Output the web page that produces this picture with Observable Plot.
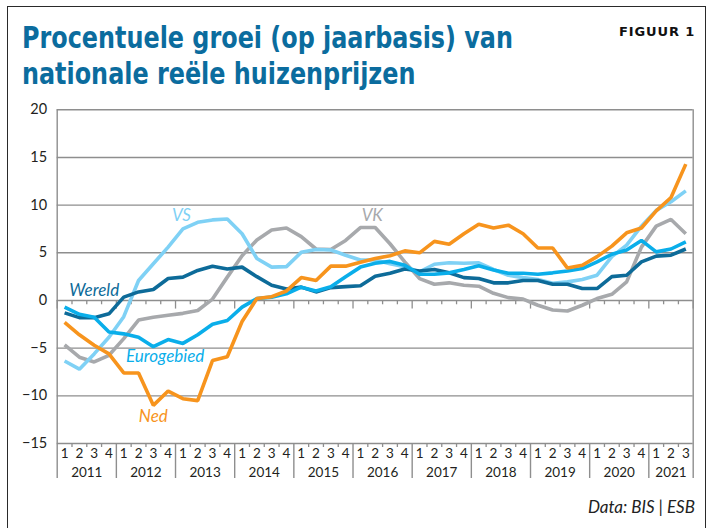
<!DOCTYPE html>
<html><head><meta charset="utf-8">
<script src="https://cdn.jsdelivr.net/npm/d3@7"></script>
<script src="https://cdn.jsdelivr.net/npm/@observablehq/plot@0.6"></script>
<style>
html,body{margin:0;padding:0;background:#fff;}
#fig{position:relative;width:711px;height:528px;overflow:hidden;background:#fff;font-family:Lato,"Open Sans",sans-serif;}
#frame{position:absolute;left:7px;top:6px;width:699px;height:560px;border:1.6px solid #2a2a2a;box-sizing:border-box;pointer-events:none;}
.tl{position:absolute;left:22px;color:#0b6c9e;font-family:"DejaVu Sans Condensed","DejaVu Sans",sans-serif;font-stretch:condensed;font-weight:bold;font-size:31px;line-height:31px;white-space:nowrap;transform-origin:0 0;}
#t1{top:22px;}
#t2{top:58px;}
#figlabel{position:absolute;left:619px;top:24px;font-family:"DejaVu Sans",sans-serif;font-weight:bold;font-size:13px;letter-spacing:0.9px;color:#111;white-space:nowrap;}
#chart{position:absolute;left:0;top:95px;}
#caption{position:absolute;right:16px;top:496px;font-family:Lato,sans-serif;font-style:italic;font-size:17px;color:#222;white-space:nowrap;}
</style>
</head><body>
<div id="fig">
  <div class="tl" id="t1">Procentuele groei (op jaarbasis) van</div>
  <div class="tl" id="t2">nationale reële huizenprijzen</div>
  <div id="figlabel">FIGUUR 1</div>
  <div id="chart"></div>
  <div id="caption">Data: BIS | ESB</div>
  <div id="frame"></div>
</div>
<script>
// ---- data ----
const years = [2011, 2012, 2013, 2014, 2015, 2016, 2017, 2018, 2019, 2020, 2021];
const quartersPerYear = [4, 4, 4, 4, 4, 4, 4, 4, 4, 4, 3];
const yTicks = [20, 15, 10, 5, 0, -5, -10, -15];

const ned = [-2.3, -3.6, -4.7, -5.6, -7.6, -7.6, -11.0, -9.5, -10.3, -10.5, -6.3, -5.9, -2.2, 0.2, 0.4, 1.0, 2.4, 2.1, 3.6, 3.6, 4.0, 4.4, 4.7, 5.2, 5.0, 6.2, 5.9, 7.0, 8.0, 7.6, 7.9, 7.0, 5.5, 5.5, 3.4, 3.7, 4.6, 5.7, 7.1, 7.6, 9.4, 10.8, 14.3];
const wereld = [-1.3, -1.8, -1.8, -1.4, 0.35, 0.9, 1.15, 2.3, 2.45, 3.15, 3.6, 3.3, 3.5, 2.5, 1.6, 1.2, 1.4, 0.9, 1.35, 1.45, 1.55, 2.55, 2.85, 3.3, 3.1, 3.25, 2.9, 2.4, 2.3, 1.85, 1.85, 2.1, 2.1, 1.7, 1.7, 1.25, 1.25, 2.5, 2.65, 4.05, 4.65, 4.75, 5.4];
const eurogebied = [-0.7, -1.45, -1.75, -3.3, -3.5, -3.85, -4.85, -4.1, -4.5, -3.6, -2.5, -2.1, -0.7, 0.2, 0.35, 0.7, 1.4, 1.0, 1.45, 2.5, 3.5, 3.9, 4.1, 3.7, 2.75, 2.75, 2.9, 3.25, 3.65, 3.2, 2.85, 2.85, 2.75, 2.9, 3.1, 3.35, 4.05, 4.85, 5.3, 6.3, 5.1, 5.4, 6.15];
const vs = [-6.35, -7.2, -5.6, -3.85, -1.7, 2.1, 3.85, 5.6, 7.5, 8.2, 8.45, 8.55, 7.0, 4.4, 3.5, 3.55, 5.05, 5.35, 5.3, 4.75, 4.25, 4.25, 3.85, 3.55, 3.0, 3.8, 3.95, 3.9, 3.95, 3.25, 2.65, 2.4, 2.2, 1.8, 1.95, 2.2, 2.65, 4.6, 5.8, 7.8, 9.45, 10.35, 11.5];
const vk = [-4.65, -5.95, -6.45, -5.75, -4.0, -2.05, -1.75, -1.55, -1.35, -1.05, 0.15, 2.45, 4.7, 6.35, 7.4, 7.6, 6.7, 5.4, 5.35, 6.3, 7.65, 7.65, 5.95, 4.05, 2.3, 1.7, 1.85, 1.6, 1.5, 0.75, 0.3, 0.15, -0.5, -1.0, -1.1, -0.5, 0.2, 0.65, 1.95, 5.6, 7.8, 8.5, 7.0];

const seriesNames = ["VK", "VS", "Wereld", "Eurogebied", "Ned"];
const seriesColors = ["#a7a9ac", "#7fd1f5", "#0d6b99", "#0aaeea", "#f7941d"];
// label anchors in data units (quarter index, percent)
const labelX = [21.3, 8.4, 2.5, 7.3, 6.5];
const labelY = [8.9, 8.9, 1.05, -5.87, -12.2];

// ---- derived ----
const qLabel = [];
const yearStart = [];
years.forEach((y, k) => { yearStart.push(qLabel.length); for (let q = 1; q <= quartersPerYear[k]; q++) qLabel.push(q); });
const n = qLabel.length;
const bounds = d3.range(0, n + 1);
const yearBounds = [...yearStart, n];
const quarterBounds = bounds.filter(b => !yearBounds.includes(b));
const qCenters = d3.range(n).map(i => i + 0.5);
const yearCenters = years.map((y, k) => yearStart[k] + quartersPerYear[k] / 2);
const rows = [];
const allSeries = [vk, vs, wereld, eurogebied, ned];
allSeries.forEach((arr, s) => arr.forEach((v, i) => rows.push({series: seriesNames[s], x: i + 0.5, y: v})));
const labels = seriesNames.map((name, s) => ({name, x: labelX[s], y: labelY[s], color: seriesColors[s]}));

const grid = "#8e8e8e";
const fmt = d => d < 0 ? "\u2212" + Math.abs(d) : String(d);

const chart = Plot.plot({
  width: 711,
  height: 433,
  marginLeft: 56.7,
  marginRight: 18.3,
  marginTop: 14.3,
  marginBottom: 85,
  x: {domain: [0, n], label: null},
  y: {domain: [-15, 20], label: null},
  color: {domain: seriesNames, range: seriesColors},
  style: {fontFamily: "Lato, 'Open Sans', sans-serif", color: "#231f20", background: "transparent", overflow: "visible"},
  marks: [
    Plot.ruleY(yTicks, {stroke: grid, strokeWidth: 1.4}),
    Plot.ruleX([0, n], {y1: -15, y2: 20, stroke: grid, strokeWidth: 1.4}),
    Plot.ruleX(quarterBounds, {y1: 0, y2: -0.45, stroke: grid, strokeWidth: 1.3}),
    Plot.ruleX(yearBounds, {y1: 0, y2: -0.9, stroke: grid, strokeWidth: 1.3}),
    Plot.axisY(yTicks, {tickSize: 0, tickPadding: 10, tickFormat: fmt, fontSize: 14.5, label: null}),
    Plot.axisX(quarterBounds, {anchor: "bottom", tickSize: 4, tickFormat: () => "", stroke: grid, strokeWidth: 1.3, label: null}),
    Plot.axisX(yearBounds, {anchor: "bottom", tickSize: 35, tickFormat: () => "", stroke: grid, strokeWidth: 1.4, label: null}),
    Plot.axisX(qCenters, {anchor: "bottom", tickSize: 0, tickPadding: 5, fontSize: 13.5, tickFormat: d => String(qLabel[Math.floor(d)]), label: null}),
    Plot.axisX(yearCenters, {anchor: "bottom", tickSize: 0, tickPadding: 24, fontSize: 13.5, tickFormat: d => String(years[yearCenters.indexOf(d)]), label: null}),
    Plot.line(rows, {x: "x", y: "y", z: "series", stroke: "series", strokeWidth: 3.6, strokeLinejoin: "miter", strokeLinecap: "butt"}),
    Plot.text(labels, {x: "x", y: "y", text: "name", fill: "color", fontSize: 17, fontStyle: "italic", textAnchor: "middle", lineAnchor: "middle"})
  ]
});
document.getElementById("chart").appendChild(chart);

// fit title width to reference (first line ~491px wide)
const t1 = document.getElementById("t1"), t2 = document.getElementById("t2");
const s = 491 / t1.getBoundingClientRect().width;
t1.style.transform = `scaleX(${s})`;
t2.style.transform = `scaleX(${s})`;
</script>
</body></html>
